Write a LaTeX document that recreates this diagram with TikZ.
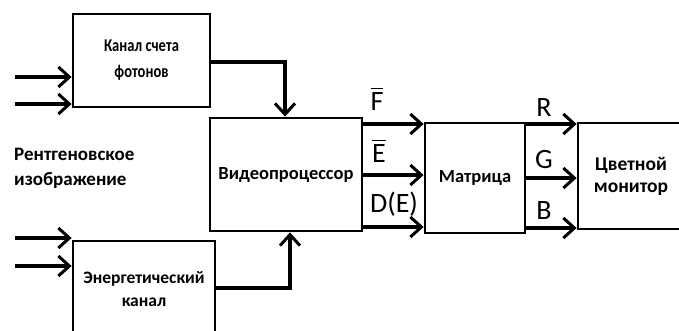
\documentclass[tikz,border=0pt]{standalone}
\usepackage{fontspec}
\setmainfont{Carlito}
\usetikzlibrary{arrows.meta}
\newcommand\obar[1]{\leavevmode\vbox{\hrule height 1.6pt\kern 3pt\hbox{#1}}}
\begin{document}
\begin{tikzpicture}[x=1pt,y=-1pt,
  blk/.style={draw, line width=2.8pt, inner sep=0pt, align=center},
  bf/.style={font=\bfseries\fontsize{18.5}{23}\selectfont},
  arr/.style={line width=3.2pt, -{Straight Barb[length=11pt,width=20pt,line width=3pt]}},
  lbl/.style={font=\fontsize{28}{30}\selectfont, inner sep=0pt}]
\clip (0,0) rectangle (679,330);
\fill[white] (0,0) rectangle (679,330);
% boxes
\node[blk, font=\bfseries\fontsize{18}{26}\selectfont, minimum width=137pt, minimum height=93pt] (phot) at (141.5,60.5) {\scalebox{0.81}[1]{Канал счета}\\\scalebox{0.81}[1]{фотонов}};
\node[blk, bf, minimum width=152pt, minimum height=113pt] (vp) at (286,174.5) {Видеопроцессор};
\node[blk, font=\bfseries\fontsize{17.5}{23}\selectfont, minimum width=142pt, minimum height=96pt] (en) at (144,289) {Энергетический\\канал};
\node[blk, bf, minimum width=100pt, minimum height=110pt] (mat) at (475,178) {Матрица};
\node[blk, font=\bfseries\fontsize{19.5}{22}\selectfont, minimum width=106pt, minimum height=106pt] (mon) at (631,176) {Цветной\\монитор};
\node[font=\bfseries\fontsize{19}{25}\selectfont, align=left, anchor=west, inner sep=0pt] (xr) at (14,168) {Рентгеновское\\изображение};
% input coordinates
\coordinate (i1) at (15,77);
\coordinate (i2) at (15,104);
\coordinate (i3) at (15,238);
\coordinate (i4) at (15,266);
\draw[arr] (i1) -- (i1 -| phot.west);
\draw[arr] (i2) -- (i2 -| phot.west);
\draw[arr] (i3) -- (i3 -| en.west);
\draw[arr] (i4) -- (i4 -| en.west);
% channel outputs
\coordinate (p1) at (285,62);
\draw[arr] (phot.east |- p1) -- (p1) -- (p1 |- vp.north);
\coordinate (e1) at (290,288);
\draw[arr] (en.east |- e1) -- (e1) -- (e1 |- vp.south);
% VP to matrix
\coordinate (a1) at (362,124);
\coordinate (a2) at (362,175);
\coordinate (a3) at (362,227);
\draw[arr] (a1) -- (a1 -| mat.west);
\draw[arr] (a2) -- (a2 -| mat.west);
\draw[arr] (a3) -- (a3 -| mat.west);
% matrix to monitor
\coordinate (b1) at (525,124);
\coordinate (b2) at (525,178);
\coordinate (b3) at (525,228);
\draw[arr] (b1) -- (b1 -| mon.west);
\draw[arr] (b2) -- (b2 -| mon.west);
\draw[arr] (b3) -- (b3 -| mon.west);
% labels
\node[lbl] (lf) at (377,99) {\obar{F}};
\node[lbl] (le) at (379,151) {\obar{E}};
\node[lbl] (ld) at (394,204) {D(E)};
\node[lbl] (lr) at (544,108) {R};
\node[lbl] (lg) at (544,160) {G};
\node[lbl] (lb) at (544,211) {B};
\end{tikzpicture}
\end{document}
